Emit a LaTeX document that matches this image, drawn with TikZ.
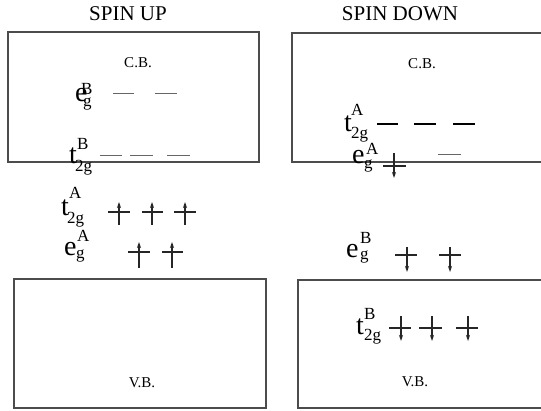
\documentclass[tikz,border=0pt]{standalone}
\usepackage{fontspec}
\setmainfont{Liberation Serif}
\usetikzlibrary{arrows.meta}
\begin{document}
\begin{tikzpicture}[x=1pt,y=-1pt,
  bandbox/.style={draw=black!70, line width=1.4pt},
  title/.style={font=\fontsize{21}{21}\selectfont, anchor=base, inner sep=0pt},
  bandlbl/.style={font=\fontsize{15}{15}\selectfont, anchor=base, inner sep=0pt},
  mainlbl/.style={font=\fontsize{28}{28}\selectfont, anchor=base west, inner sep=0pt},
  scriptlbl/.style={font=\fontsize{17}{17}\selectfont, anchor=base west, inner sep=0pt},
  emptylvl/.style={draw=black!60, line width=0.8pt},
  darklvl/.style={draw=black, line width=1.2pt},
  occlvl/.style={draw=black!85, line width=1.2pt},
  spinarrow/.style={draw=black!85, line width=1.1pt, -{Stealth[length=6pt,width=4pt]}}
]
\useasboundingbox[fill=white] (0,0) rectangle (541,411);

% titles
\node[title] (tup) at (128,21) {SPIN UP};
\node[title] (tdown) at (400,21) {SPIN DOWN};

% boxes
\draw[bandbox] (8,32) rectangle (259,162);
\draw[bandbox] (292,33) rectangle (548,162);
\draw[bandbox] (14,279) rectangle (266,408);
\draw[bandbox] (298,280) rectangle (548,408);

\node[bandlbl] (cbl) at (138,68) {C.B.};
\node[bandlbl] (cbr) at (422,69) {C.B.};
\node[bandlbl] (vbl) at (142,388) {V.B.};
\node[bandlbl] (vbr) at (415,387) {V.B.};

% ---- labels ----
% left CB e_g^B
\node[mainlbl] (l1m) at (75,102) {e};
\node[scriptlbl] (l1s) at (81,95) {B};
\node[scriptlbl] (l1b) at (83,107) {g};
% left CB t_2g^B
\node[mainlbl] (l2m) at (69,164) {t};
\node[scriptlbl] (l2s) at (77,150) {B};
\node[scriptlbl] (l2b) at (75,172) {2g};
% left t_2g^A
\node[mainlbl] (l3m) at (61,216) {t};
\node[scriptlbl] (l3s) at (69,199) {A};
\node[scriptlbl] (l3b) at (67,224) {2g};
% left e_g^A
\node[mainlbl] (l4m) at (64,256) {e};
\node[scriptlbl] (l4s) at (77,242) {A};
\node[scriptlbl] (l4b) at (76,259) {g};
% right CB t_2g^A
\node[mainlbl] (l5m) at (344,132) {t};
\node[scriptlbl] (l5s) at (351,116) {A};
\node[scriptlbl] (l5b) at (351,139) {2g};
% right CB e_g^A
\node[mainlbl] (l6m) at (352,164) {e};
\node[scriptlbl] (l6s) at (366,155) {A};
\node[scriptlbl] (l6b) at (364,169) {g};
% right e_g^B
\node[mainlbl] (l7m) at (346,258) {e};
\node[scriptlbl] (l7s) at (360,244) {B};
\node[scriptlbl] (l7b) at (360,260) {g};
% right VB t_2g^B
\node[mainlbl] (l8m) at (356,335) {t};
\node[scriptlbl] (l8s) at (364,320) {B};
\node[scriptlbl] (l8b) at (364,341) {2g};

% ---- empty levels ----
\foreach \a/\b in {113/134,155/177}
  \draw[emptylvl] (\a,93) -- (\b,93);
\foreach \a/\b in {100/122,130/153,167/190}
  \draw[emptylvl] (\a,155) -- (\b,155);
\foreach \a/\b in {377/398,414/436,453/475}
  \draw[darklvl] (\a,124) -- (\b,124);
\draw[emptylvl] (438,154) -- (461,154);

% ---- occupied levels: spin up ----
\foreach \a/\b/\c in {108/130/119,142/163/152,174/196/185}{
  \draw[occlvl] (\a,212) -- (\b,212);
  \draw[spinarrow] (\c,225) -- (\c,202);
}
\foreach \a/\b/\c in {128/150/139,162/183/172}{
  \draw[occlvl] (\a,252) -- (\b,252);
  \draw[spinarrow] (\c,268) -- (\c,242);
}

% ---- occupied levels: spin down ----
\draw[occlvl] (383,166) -- (406,166);
\draw[spinarrow] (394,153) -- (394,178);
\foreach \a/\b/\c in {395/417/407,439/461/450}{
  \draw[occlvl] (\a,255) -- (\b,255);
  \draw[spinarrow] (\c,247) -- (\c,272);
}
\foreach \a/\b/\c in {389/411/401,419/442/432,456/478/468}{
  \draw[occlvl] (\a,328) -- (\b,328);
  \draw[spinarrow] (\c,316) -- (\c,341);
}
\end{tikzpicture}
\end{document}
